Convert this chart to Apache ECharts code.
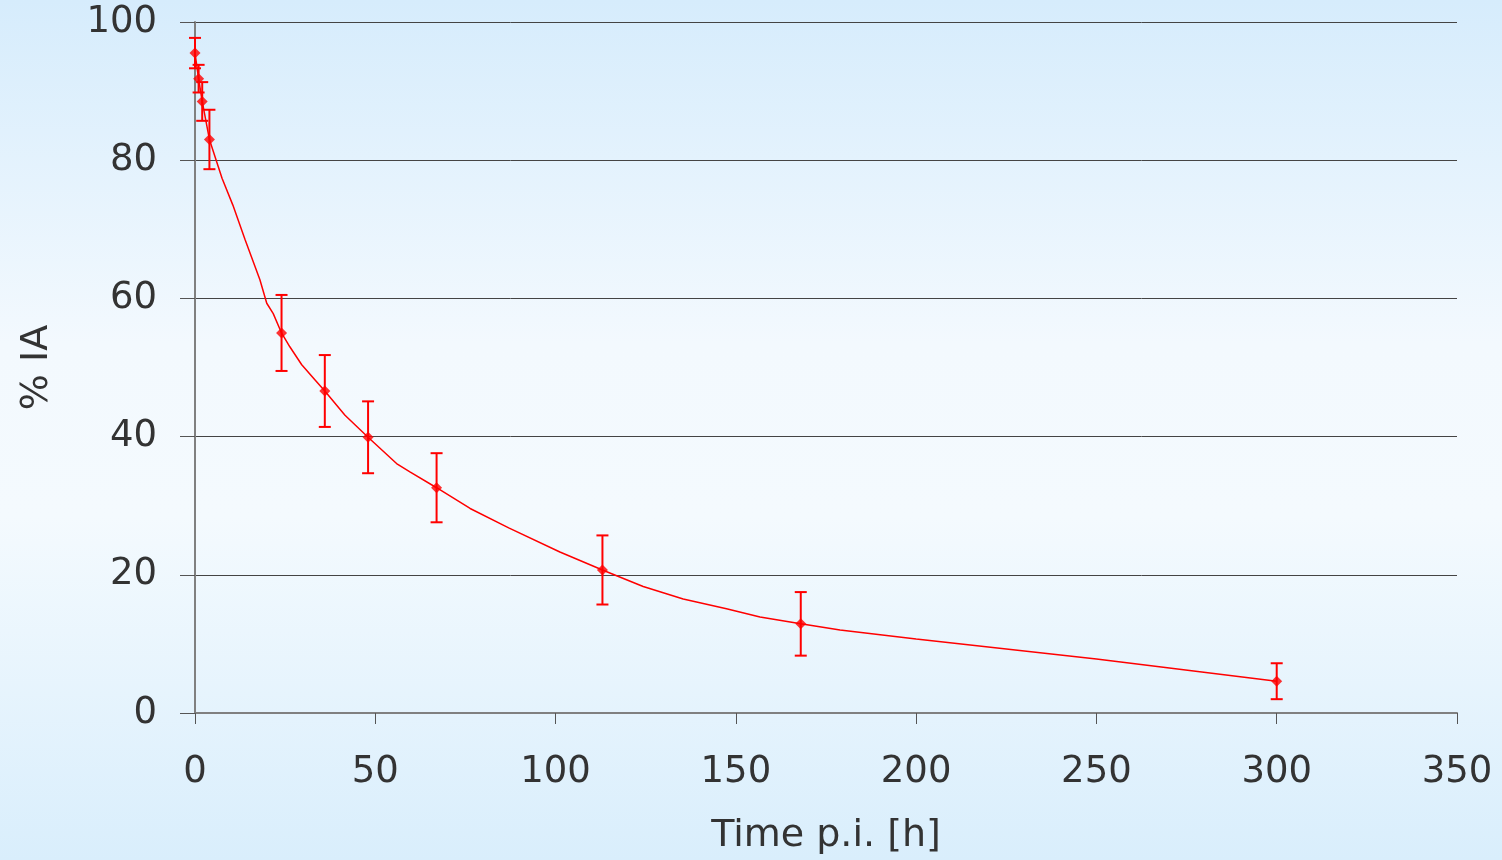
<!DOCTYPE html>
<html>
<head>
<meta charset="utf-8">
<script src="https://cdn.jsdelivr.net/npm/echarts@6/dist/echarts.min.js"></script>
<style>
html,body{margin:0;padding:0;}
#c{width:1502px;height:860px;}
</style>
</head>
<body>
<div id="c"></div>
<script>
// measured data points
const timeH = [0, 1, 2, 4, 24, 36, 48, 67, 113, 168, 300];
const meanIA = [95.5, 91.8, 88.5, 83.0, 55.0, 46.6, 39.9, 32.6, 20.7, 12.9, 4.6];
const sdIA = [2.2, 2.0, 2.8, 4.3, 5.5, 5.2, 5.2, 5.0, 5.0, 4.6, 2.6];

// fitted curve
const fitTime = [0, 1, 2, 4, 7.5, 10.5, 13.9, 18.0, 19.9, 21.7, 24, 26.3, 29.6, 33.3, 36, 41.6, 48, 55.9, 59.6, 67, 76.3, 87, 101.2, 113, 124.3, 135.4, 147.4, 156.7, 168, 178.9, 200, 250, 300];
const fitIA = [95.5, 91.8, 88.5, 83.0, 77.4, 73.5, 68.5, 62.7, 59.3, 57.8, 55.0, 53.0, 50.4, 48.2, 46.6, 43.1, 39.9, 36.1, 34.9, 32.6, 29.6, 26.8, 23.3, 20.7, 18.3, 16.5, 15.1, 13.9, 12.9, 12.0, 10.7, 7.8, 4.6];

const xTicks = [0, 50, 100, 150, 200, 250, 300, 350];
const yTicks = [0, 20, 40, 60, 80, 100];

const FONT = '"DejaVu Sans", "Liberation Sans", Arial, sans-serif';
const chart = echarts.init(document.getElementById('c'));
const errData = timeH.map((t, i) => [t, meanIA[i] - sdIA[i], meanIA[i] + sdIA[i]]);

chart.setOption({
  backgroundColor: {
    type: 'linear', x: 0, y: 0, x2: 0, y2: 1,
    colorStops: [
      {offset: 0, color: '#d6ecfc'},
      {offset: 0.4, color: '#f3f9fe'},
      {offset: 0.6, color: '#f4fafe'},
      {offset: 1, color: '#d9eefc'}
    ]
  },
  animation: false,
  grid: {left: 195, right: 45, top: 22, bottom: 147, containLabel: false, outerBoundsMode: 'none'},
  xAxis: {
    type: 'value', min: 0, max: 350, interval: 50,
    name: 'Time p.i. [h]', nameLocation: 'middle', nameGap: 104,
    nameTextStyle: {fontSize: 38, color: '#333', fontFamily: FONT},
    axisLine: {show: true, lineStyle: {color: '#808080', width: 2}},
    axisTick: {show: true, length: 11, lineStyle: {color: '#555', width: 1}},
    axisLabel: {fontSize: 37, color: '#333', margin: 41, fontFamily: FONT},
    splitLine: {show: false}
  },
  yAxis: {
    type: 'value', min: 0, max: 100, interval: 20,
    name: '% IA', nameLocation: 'middle', nameGap: 139, nameRotate: 90,
    nameTextStyle: {fontSize: 38, color: '#333', fontFamily: FONT},
    axisLine: {show: true, lineStyle: {color: '#808080', width: 2}},
    axisTick: {show: true, inside: false, length: 15, lineStyle: {color: '#555', width: 1}},
    axisLabel: {fontSize: 37, color: '#333', margin: 38, fontFamily: FONT},
    splitLine: {show: true, lineStyle: {color: '#444', width: 1}}
  },
  series: [
    {
      type: 'line', data: fitTime.map((t, i) => [t, fitIA[i]]),
      showSymbol: false, smooth: false,
      lineStyle: {color: '#ff0000', width: 1.5}, z: 3
    },
    {
      type: 'custom', data: errData, z: 4,
      renderItem: function (params, api) {
        const x = api.value(0);
        const lo = api.coord([x, api.value(1)]);
        const hi = api.coord([x, api.value(2)]);
        const w = 6;
        const st = {stroke: '#ff0000', lineWidth: 2};
        return {
          type: 'group',
          children: [
            {type: 'line', shape: {x1: lo[0], y1: lo[1], x2: hi[0], y2: hi[1]}, style: st},
            {type: 'line', shape: {x1: lo[0] - w, y1: lo[1], x2: lo[0] + w, y2: lo[1]}, style: st},
            {type: 'line', shape: {x1: hi[0] - w, y1: hi[1], x2: hi[0] + w, y2: hi[1]}, style: st}
          ]
        };
      }
    },
    {
      type: 'scatter', data: timeH.map((t, i) => [t, meanIA[i]]),
      symbol: 'diamond', symbolSize: 11,
      itemStyle: {color: '#ff0000'}, z: 5
    }
  ]
});
</script>
</body>
</html>
